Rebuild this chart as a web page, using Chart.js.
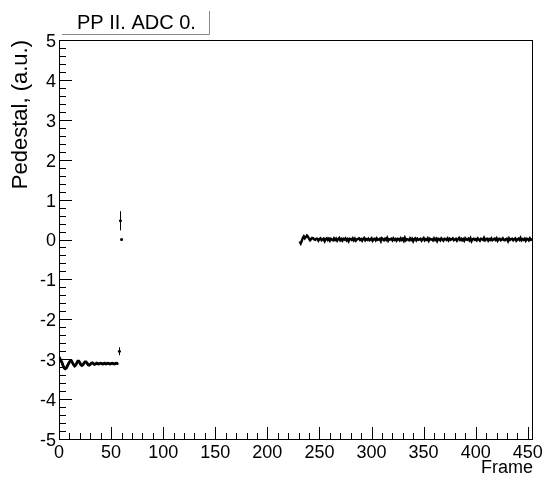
<!DOCTYPE html>
<html>
<head>
<meta charset="utf-8">
<script src="https://cdn.jsdelivr.net/npm/chart.js@4.4.1/dist/chart.umd.min.js"></script>
<style>
  html, body { margin: 0; padding: 0; background: #fff; }
  canvas { display: block; }
</style>
</head>
<body>
<canvas id="pedestalChart" width="544" height="479"></canvas>
<script>
// Données
const chartTitle = 'PP II. ADC 0.';
const xTicks = [0, 50, 100, 150, 200, 250, 300, 350, 400, 450];
const yTicks = [-5, -4, -3, -2, -1, 0, 1, 2, 3, 4, 5];

// premier bloc : frames 0..57
const firstStart = 0;
const pedestalFirst = [
  -2.94, -2.99, -3.04, -3.09, -3.17, -3.22, -3.24, -3.22, -3.17, -3.12,
  -3.07, -3.04, -3.04, -3.09, -3.14, -3.17, -3.15, -3.10, -3.05, -3.05,
  -3.09, -3.14, -3.16, -3.14, -3.10, -3.07, -3.07, -3.10, -3.14, -3.15,
  -3.13, -3.10, -3.09, -3.11, -3.13, -3.12, -3.10, -3.11, -3.12, -3.11,
  -3.10, -3.11, -3.12, -3.11, -3.10, -3.12, -3.11, -3.10, -3.11, -3.12,
  -3.11, -3.10, -3.11, -3.12, -3.11, -3.10, -3.11, -3.10
];

// points isolés avec barres d'erreur
const isolatedFrames = [58, 59, 60];
const isolatedValues = [-2.80, 0.47, 0.00];
const isolatedErrors = [0.10, 0.24, 0.02];

// second bloc : frames 231..455
const secondStart = 231;
const pedestalSecond = [
  -0.05, -0.10, -0.04, 0.04, 0.08, 0.03, 0.06, 0.10, 0.07, 0.02,
  -0.02, 0.01, 0.04, 0.03, 0.00, -0.01, 0.02,
  0.02, -0.03, 0.01, 0.03, -0.02, 0.00, 0.02, -0.04, 0.01, 0.03,
  -0.01, 0.02, -0.03, 0.02, 0.00, -0.02, 0.03, -0.01, 0.02, -0.03,
  0.01, 0.04, -0.02, 0.01, -0.03, 0.02, 0.00, 0.03, -0.02, 0.01,
  -0.04, 0.02, 0.01, -0.01, 0.03, -0.02, 0.02, -0.03, 0.00, 0.02,
  0.03, -0.01, 0.01, -0.03, 0.02, 0.04, -0.02, 0.01, -0.01, 0.02,
  -0.02, 0.00, 0.03, -0.03, 0.01, 0.02, -0.02, 0.03, -0.01, 0.00,
  0.02, -0.04, 0.03, 0.01, -0.02, 0.02, -0.01, 0.04, -0.03, 0.01,
  0.00, 0.02, -0.02, 0.03, -0.01, 0.01, -0.03, 0.02, 0.01, -0.02,
  0.03, -0.01, 0.02, -0.03, 0.04, -0.02, 0.01, 0.00, -0.02, 0.03,
  -0.01, 0.02, -0.04, 0.01, 0.03, -0.02, 0.02, -0.01, 0.00, 0.02,
  -0.03, 0.01, 0.04, -0.02, 0.01, -0.01, 0.03, -0.03, 0.02, 0.00,
  0.01, -0.02, 0.03, -0.01, 0.02, -0.04, 0.02, 0.01, -0.02, 0.03,
  0.00, -0.03, 0.02, 0.01, -0.01, 0.03, -0.02, 0.02, -0.01, 0.01,
  0.03, -0.02, 0.00, 0.02, -0.03, 0.01, 0.04, -0.01, 0.02, -0.02,
  0.01, -0.03, 0.03, 0.00, -0.01, 0.02, -0.02, 0.03, -0.04, 0.01,
  0.02, -0.01, 0.01, -0.02, 0.03, 0.00, -0.03, 0.02, 0.01, -0.01,
  0.04, -0.02, 0.01, 0.02, -0.03, 0.01, -0.01, 0.03, -0.02, 0.00,
  0.02, -0.01, 0.03, -0.03, 0.01, 0.02, -0.02, 0.00, 0.03, -0.01,
  -0.02, 0.01, 0.02, -0.04, 0.03, -0.01, 0.01, 0.02, -0.02, 0.01,
  0.03, -0.03, 0.00, 0.02, -0.01, 0.04, -0.02, 0.01, -0.01, 0.02,
  -0.03, 0.02, 0.01, -0.02, 0.03, -0.01, 0.00, 0.01
];

const FONT = '"Liberation Sans", Arial, Helvetica, sans-serif';

function toPoints(start, values) {
  return values.map((v, i) => ({ x: start + i, y: v }));
}

// Cadre, graduations intérieures façon ROOT, barres d'erreur et titre
const rootStyle = {
  id: 'rootStyle',
  afterDatasetsDraw(chart) {
    const ctx = chart.ctx;
    const xs = chart.scales.x;
    const ys = chart.scales.y;
    ctx.save();
    ctx.strokeStyle = '#000';
    ctx.lineWidth = 1;
    isolatedFrames.forEach((f, i) => {
      const px = Math.round(xs.getPixelForValue(f)) + 0.5;
      ctx.beginPath();
      ctx.moveTo(px, ys.getPixelForValue(isolatedValues[i] + isolatedErrors[i]));
      ctx.lineTo(px, ys.getPixelForValue(isolatedValues[i] - isolatedErrors[i]));
      ctx.stroke();
    });
    ctx.restore();
  },
  afterDraw(chart) {
    const ctx = chart.ctx;
    const area = chart.chartArea;
    const xs = chart.scales.x;
    const ys = chart.scales.y;
    ctx.save();
    ctx.strokeStyle = '#000';
    ctx.lineWidth = 1;
    ctx.strokeRect(Math.round(area.left) + 0.5, Math.round(area.top) + 0.5,
      Math.round(area.right - area.left) - 1, Math.round(area.bottom - area.top));

    // graduations de l'axe Y (pas mineur 0.2)
    ctx.beginPath();
    for (let i = yTicks[0] * 5; i <= yTicks[yTicks.length - 1] * 5; i++) {
      const py = Math.round(ys.getPixelForValue(i / 5)) + 0.5;
      const len = i % 5 === 0 ? 13 : 7;
      ctx.moveTo(area.left, py);
      ctx.lineTo(area.left + len, py);
    }
    // graduations de l'axe X (pas mineur 10)
    for (let v = 0; v <= xs.max; v += 10) {
      const px = Math.round(xs.getPixelForValue(v)) + 0.5;
      const len = v % 50 === 0 ? 12 : 6;
      ctx.moveTo(px, area.bottom);
      ctx.lineTo(px, area.bottom - len);
    }
    ctx.stroke();

    // boîte du titre
    ctx.strokeStyle = '#888';
    ctx.beginPath();
    ctx.moveTo(62, 34.5);
    ctx.lineTo(209.5, 34.5);
    ctx.moveTo(209.5, 11);
    ctx.lineTo(209.5, 34.5);
    ctx.stroke();
    ctx.fillStyle = '#000';
    ctx.font = '20px ' + FONT;
    ctx.textBaseline = 'alphabetic';
    ctx.fillText(chartTitle, 77, 29);
    ctx.restore();
  }
};

new Chart(document.getElementById('pedestalChart'), {
  type: 'line',
  data: {
    datasets: [
      {
        data: toPoints(firstStart, pedestalFirst),
        borderColor: '#000',
        borderWidth: 2.8,
        pointRadius: 0,
        tension: 0
      },
      {
        data: isolatedFrames.map((f, i) => ({ x: f, y: isolatedValues[i] })),
        showLine: false,
        pointRadius: 1.5,
        pointBackgroundColor: '#000',
        pointBorderColor: '#000',
        pointBorderWidth: 0
      },
      {
        data: toPoints(secondStart, pedestalSecond),
        borderColor: '#000',
        borderWidth: 2.4,
        pointRadius: 0,
        tension: 0
      }
    ]
  },
  options: {
    responsive: false,
    devicePixelRatio: 1,
    animation: false,
    layout: { padding: { top: 40, right: 11, left: 0, bottom: 0 } },
    plugins: { legend: { display: false }, tooltip: { enabled: false } },
    scales: {
      x: {
        type: 'linear',
        min: 0,
        max: 455,
        grid: { display: false, drawTicks: false },
        border: { display: false },
        ticks: { color: '#000', font: { family: FONT, size: 18 }, padding: 3, maxRotation: 0 },
        afterBuildTicks(scale) { scale.ticks = xTicks.map(v => ({ value: v })); },
        afterFit(scale) {
          scale.height = 40;
          scale.paddingLeft = 0;
          scale.paddingRight = 0;
        },
        title: {
          display: true, text: 'Frame', align: 'end', color: '#000',
          font: { family: FONT, size: 18 }, padding: { top: 0, bottom: 0 }
        }
      },
      y: {
        type: 'linear',
        min: -5,
        max: 5,
        grid: { display: false, drawTicks: false },
        border: { display: false },
        ticks: { color: '#000', font: { family: FONT, size: 18 }, padding: 3, labelOffset: 2 },
        afterBuildTicks(scale) { scale.ticks = yTicks.map(v => ({ value: v })); },
        afterFit(scale) {
          scale.width = 59;
          scale.paddingTop = 0;
          scale.paddingBottom = 0;
        },
        title: {
          display: true, text: 'Pedestal, (a.u.)', align: 'end', color: '#000',
          font: { family: FONT, size: 22 }, padding: { top: 8, bottom: 0 }
        }
      }
    }
  },
  plugins: [rootStyle]
});
</script>
</body>
</html>
